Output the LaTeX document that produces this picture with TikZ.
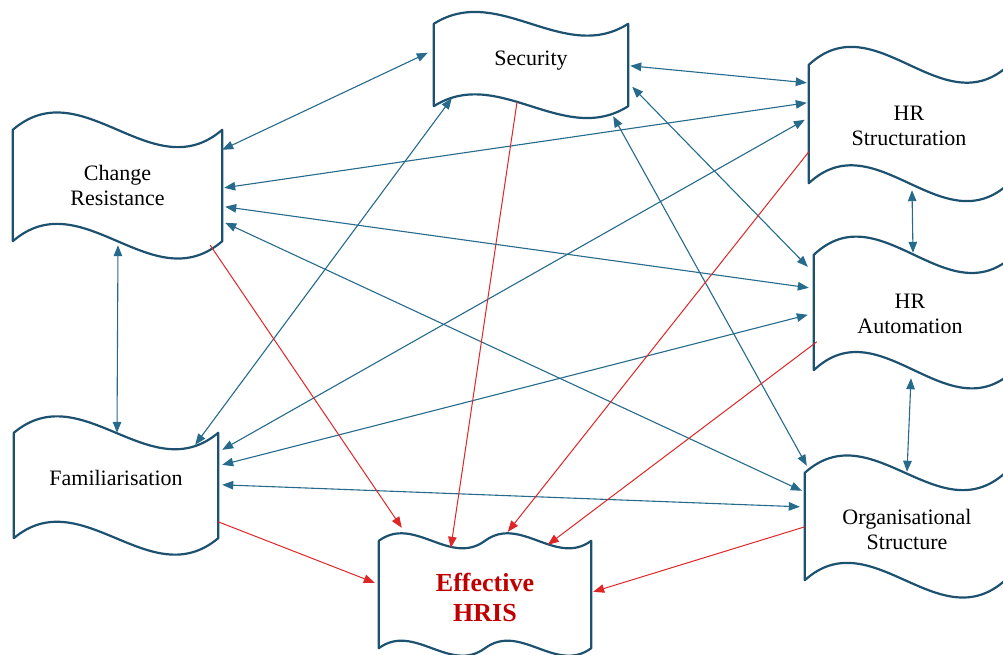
\documentclass[tikz,border=0pt]{standalone}
\usepackage{fontspec}
\setmainfont{Liberation Serif}
\usetikzlibrary{calc,arrows.meta}
\definecolor{tapeblue}{RGB}{28,82,112}
\definecolor{linkblue}{RGB}{38,106,140}
\definecolor{linkred}{RGB}{222,38,38}
\definecolor{hrisred}{RGB}{192,0,0}
\tikzset{
  tapebox/.style={rectangle, inner sep=0pt, draw=none},
  tapeline/.style={draw=tapeblue, line width=2.2pt, line join=round},
  tapetext/.style={font=\fontsize{22}{25}\selectfont, align=center, text=black},
  hristext/.style={font=\fontsize{26}{30}\selectfont\bfseries, align=center, text=hrisred},
  bilink/.style={draw=linkblue, line width=1.1pt, {Triangle[length=11pt,width=8.5pt]}-{Triangle[length=11pt,width=8.5pt]}},
  redlink/.style={draw=linkred, line width=1pt, -{Triangle[length=11pt,width=8.5pt]}}
}
\newcommand{\tapeoutline}[3]{%
  \draw[tapeline] (#1.north west) .. controls +(#2/3,-#3) and +(-#2/3,#3) .. (#1.north east)
    -- (#1.south east) .. controls +(-#2/3,#3) and +(#2/3,-#3) .. (#1.south west) -- cycle;}
\begin{document}
\begin{tikzpicture}[x=1pt,y=-1pt]
\useasboundingbox (0,0) rectangle (1003,655);
\clip (0,0) rectangle (1003,655);

% boxes of the tape shapes
\node[tapebox, minimum width=194pt, minimum height=82pt] (sec) at (531,65) {};
\node[tapebox, minimum width=209pt, minimum height=111pt] (cr) at (117.5,185.5) {};
\node[tapebox, minimum width=200pt, minimum height=118pt] (hrs) at (909,124) {};
\node[tapebox, minimum width=200pt, minimum height=115pt] (hra) at (914,312.5) {};
\node[tapebox, minimum width=200pt, minimum height=107pt] (org) at (905,526.5) {};
\node[tapebox, minimum width=204pt, minimum height=105pt] (fam) at (116,485.5) {};
\node[tapebox, minimum width=212pt, minimum height=107pt] (hris) at (485,594.5) {};

% outlines
\tapeoutline{sec}{194}{41}
\tapeoutline{cr}{209}{60}
\tapeoutline{hrs}{200}{62}
\tapeoutline{hra}{200}{63}
\tapeoutline{org}{200}{60}
\tapeoutline{fam}{204}{57}
\draw[tapeline] (hris.north west) .. controls +(106/3,-26) and +(-106/3,26) .. (hris.north)
  .. controls +(106/3,-26) and +(-106/3,26) .. (hris.north east)
  -- (hris.south east) .. controls +(-106/3,26) and +(106/3,-26) .. (hris.south)
  .. controls +(-106/3,26) and +(106/3,-26) .. (hris.south west) -- cycle;

% texts
\node[tapetext] (sec-t) at ($(sec.center)+(0,-4)$) {Security};
\node[tapetext] (cr-t) at (cr.center) {Change\\Resistance};
\node[tapetext] (hrs-t) at ($(hrs.center)+(0,2)$) {HR\\Structuration};
\node[tapetext] (hra-t) at ($(hra.center)+(-4,1.5)$) {HR\\Automation};
\node[tapetext] (org-t) at ($(org.center)+(2,2.5)$) {Organisational\\Structure};
\node[tapetext] (fam-t) at ($(fam.center)+(0,-8)$) {Familiarisation};
\node[hristext] (hris-t) at ($(hris.center)+(0,2.5)$) {Effective\\HRIS};

% blue two-way links
\draw[bilink] ($(cr.north east)+(0,20)$) -- ($(sec.north west)+(-6,29)$);
\draw[bilink] ($(sec.north east)+(2,42)$) -- ($(hrs.north west)+(-2,18)$);
\draw[bilink] ($(sec.north east)+(4,63)$) -- ($(hra.north west)+(-6,12)$);
\draw[bilink] ($(sec.south east)+(-15,10)$) -- ($(org.north west)+(2,-7)$);
\draw[bilink] ($(sec.south west)+(18,-8)$) -- ($(fam.north east)+(-23,12)$);
\draw[bilink] ($(cr.north east)+(2,58)$) -- ($(hrs.north west)+(-2,38)$);
\draw[bilink] ($(cr.north east)+(3,77)$) -- ($(hra.north west)+(-5,33)$);
\draw[bilink] ($(cr.north east)+(3,93)$) -- ($(org.north west)+(-3,18)$);
\draw[bilink] ($(cr.south)+(0.5,4)$) -- ($(fam.north)+(1,0)$);
\draw[bilink] ($(hrs.north west)+(-4,55)$) -- ($(fam.north east)+(4,17)$);
\draw[bilink] ($(hra.north west)+(-6,60)$) -- ($(fam.north east)+(4,32)$);
\draw[bilink] ($(org.north west)+(-5,34)$) -- ($(fam.north east)+(4,52)$);
\draw[bilink] ($(hrs.south)+(3,7)$) -- ($(hra.north)+(-1,-2)$);
\draw[bilink] ($(hra.south)+(-3,8)$) -- ($(org.north)+(2,-1)$);

% red links to Effective HRIS
\draw[redlink] ($(sec.south)+(-14,-4)$) -- ($(hris.north west)+(72,7)$);
\draw[redlink] ($(cr.south east)+(-12,4)$) -- ($(hris.north west)+(23,-13)$);
\draw[redlink] ($(hrs.north west)+(0,87)$) -- ($(hris.north west)+(129,-9)$);
\draw[redlink] ($(hra.north west)+(3,87)$) -- ($(hris.north west)+(169,4)$);
\draw[redlink] ($(org.north west)+(0,54)$) -- ($(hris.north east)+(2,51)$);
\draw[redlink] ($(fam.north east)+(0,89)$) -- ($(hris.north west)+(-4,42)$);
\end{tikzpicture}
\end{document}
